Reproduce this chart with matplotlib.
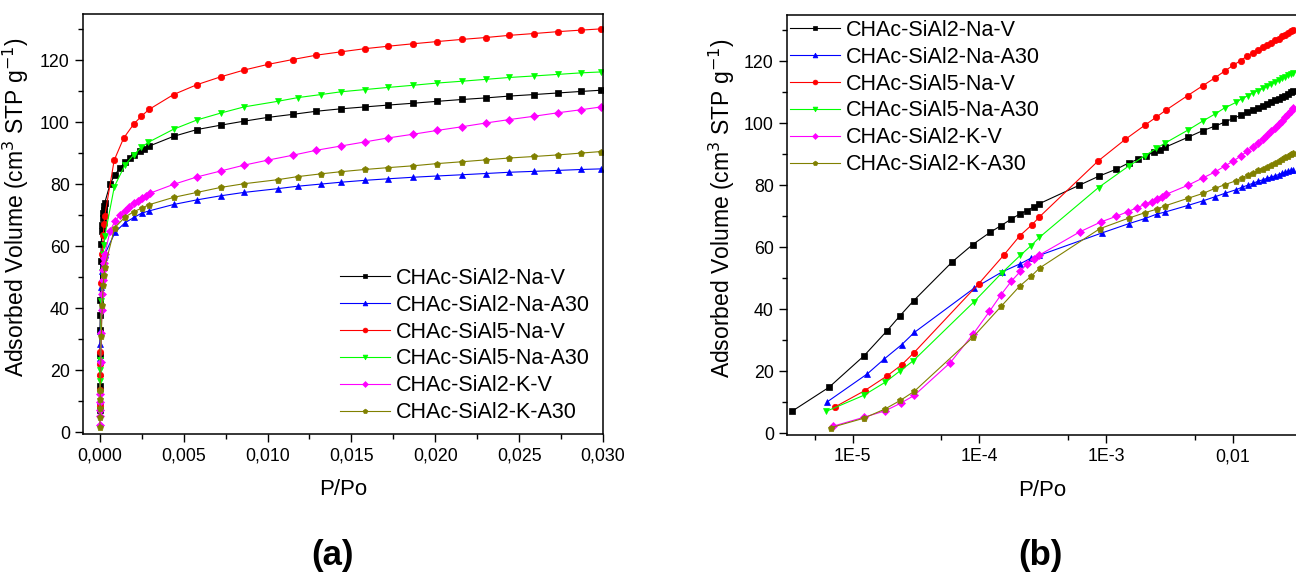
import numpy as np
import matplotlib
matplotlib.use("Agg")
import matplotlib.pyplot as plt
from matplotlib.ticker import MultipleLocator, FixedLocator, NullFormatter

plt.rcParams['font.family'] = ['Liberation Sans', 'DejaVu Sans']

# Isotherm data (P/Po, adsorbed volume cm3 STP/g) -----------------------------
labels = ["CHAc-SiAl2-Na-V", "CHAc-SiAl2-Na-A30", "CHAc-SiAl5-Na-V",
          "CHAc-SiAl5-Na-A30", "CHAc-SiAl2-K-V", "CHAc-SiAl2-K-A30"]
colors = ["#000000", "#0000FF", "#FF0000", "#00FF00", "#FF00FF", "#808000"]
markers = ["s", "^", "o", "v", "D", "p"]

p_hi_a = [0.0044, 0.0058, 0.0072, 0.0086, 0.0100, 0.0115, 0.0129, 0.0144, 0.0158,
          0.0172, 0.0187, 0.0201, 0.0216, 0.0230, 0.0244, 0.0259, 0.0273, 0.0287, 0.0299]
p_hi_b = [0.0044, 0.0058, 0.0072, 0.0086, 0.0106, 0.0118, 0.0132, 0.0144, 0.0158,
          0.0172, 0.0187, 0.0201, 0.0216, 0.0230, 0.0244, 0.0259, 0.0273, 0.0287, 0.0299]

p_na2_v = [3.3e-6, 6.5e-6, 1.23e-5, 1.87e-5, 2.36e-5, 3.03e-5, 6.1e-5, 8.85e-5, 1.22e-4,
           1.48e-4, 1.78e-4, 2.09e-4, 2.37e-4, 2.69e-4, 2.94e-4, 6.1e-4, 8.8e-4, 1.2e-3,
           1.5e-3, 1.78e-3, 2.07e-3, 2.37e-3, 2.65e-3, 2.92e-3] + p_hi_a
v_na2_v = [7.0, 14.8, 25.0, 33.1, 37.9, 42.8, 55.3, 60.9, 64.9, 67.0, 69.1, 70.8, 71.8,
           73.1, 74.0, 80.0, 83.0, 85.2, 87.2, 88.4, 89.6, 90.7, 91.5, 92.3,
           95.5, 97.7, 99.1, 100.4, 101.6, 102.6, 103.6, 104.4, 105.0, 105.6, 106.2,
           106.8, 107.4, 107.9, 108.5, 109.0, 109.5, 110.0, 110.4]

p_na2_a = [6.24e-6, 1.30e-5, 1.78e-5, 2.44e-5, 3.06e-5, 9.0e-5, 1.5e-4, 2.1e-4, 2.55e-4,
           2.97e-4, 9.2e-4, 1.5e-3, 2.03e-3, 2.5e-3, 2.92e-3] + p_hi_b
v_na2_a = [10.0, 19.1, 24.0, 28.6, 32.5, 46.7, 52.0, 54.7, 56.5, 57.4, 64.6, 67.6, 69.3,
           70.7, 71.4, 73.5, 75.0, 76.3, 77.4, 78.6, 79.4, 80.1, 80.7, 81.3, 81.8, 82.3,
           82.7, 83.1, 83.5, 83.9, 84.2, 84.5, 84.8, 85.0]

p_na5_v = [7.2e-6, 1.24e-5, 1.87e-5, 2.44e-5, 3.03e-5, 9.9e-5, 1.55e-4, 2.09e-4, 2.6e-4,
           2.97e-4, 8.6e-4, 1.42e-3, 2.03e-3, 2.48e-3, 2.94e-3] + p_hi_a
v_na5_v = [8.4, 13.7, 18.5, 22.1, 25.9, 48.3, 57.4, 63.8, 67.3, 69.8, 87.8, 94.9, 99.5,
           102.0, 104.2, 109.0, 112.2, 114.7, 116.9, 118.7, 120.3, 121.7, 122.8, 123.8,
           124.6, 125.4, 126.1, 126.8, 127.4, 128.1, 128.7, 129.3, 129.8, 130.2]

p_na5_a = [6.15e-6, 1.22e-5, 1.80e-5, 2.38e-5, 3.01e-5, 9.0e-5, 1.50e-4, 2.10e-4, 2.55e-4,
           2.97e-4, 8.7e-4, 1.5e-3, 2.03e-3, 2.48e-3, 2.9e-3] + p_hi_b
v_na5_a = [7.0, 12.2, 16.4, 20.2, 23.4, 42.3, 51.7, 57.4, 60.5, 63.2, 79.3, 86.2, 89.6,
           91.9, 93.6, 97.8, 100.8, 103.0, 105.0, 106.8, 108.0, 109.0, 109.9, 110.6,
           111.3, 112.0, 112.7, 113.3, 113.9, 114.5, 115.0, 115.5, 116.0, 116.3]

p_k2_v = [6.95e-6, 1.22e-5, 1.80e-5, 2.40e-5, 3.06e-5, 5.9e-5, 8.96e-5, 1.20e-4, 1.48e-4,
          1.78e-4, 2.10e-4, 2.37e-4, 2.68e-4, 2.97e-4, 6.2e-4, 9.1e-4, 1.2e-3, 1.48e-3,
          1.76e-3, 2.03e-3, 2.28e-3, 2.5e-3, 2.75e-3, 2.97e-3] + p_hi_a
v_k2_v = [2.2, 5.1, 7.2, 9.7, 12.2, 22.8, 32.1, 39.3, 44.7, 49.0, 52.2, 54.7, 56.3, 57.5,
          65.0, 68.2, 70.0, 71.5, 72.8, 73.9, 74.7, 75.5, 76.4, 77.1,
          80.0, 82.4, 84.3, 86.2, 87.8, 89.4, 91.0, 92.4, 93.7, 95.0, 96.2, 97.4, 98.6,
          99.8, 100.9, 102.0, 103.1, 104.1, 105.0]

p_k2_a = [6.74e-6, 1.22e-5, 1.8e-5, 2.38e-5, 3.06e-5, 8.85e-5, 1.48e-4, 2.07e-4, 2.55e-4,
          2.98e-4, 8.9e-4, 1.5e-3, 2.03e-3, 2.5e-3, 2.92e-3] + p_hi_b
v_k2_a = [1.8, 4.8, 7.8, 10.6, 13.5, 30.9, 40.9, 47.4, 50.6, 53.3, 66.0, 69.4, 71.2,
          72.3, 73.4, 75.8, 77.4, 79.0, 80.2, 81.5, 82.5, 83.4, 84.1, 84.8, 85.4, 86.0,
          86.7, 87.3, 87.9, 88.5, 89.0, 89.5, 90.1, 90.6]

series_p = [p_na2_v, p_na2_a, p_na5_v, p_na5_a, p_k2_v, p_k2_a]
series_v = [v_na2_v, v_na2_a, v_na5_v, v_na5_a, v_k2_v, v_k2_a]

lin_ticks = [0.0, 0.005, 0.010, 0.015, 0.020, 0.025, 0.030]
lin_labels = ["0,000", "0,005", "0,010", "0,015", "0,020", "0,025", "0,030"]
log_ticks = [1e-5, 1e-4, 1e-3, 1e-2]
log_labels = ["1E-5", "1E-4", "1E-3", "0,01"]
log_minor = [5e-6, 5e-5, 5e-4, 5e-3]

YLABEL = "Adsorbed Volume (cm$^3$ STP g$^{-1}$)"
LEG_FS = 15.5


def style_axis(ax):
    for s in ax.spines.values():
        s.set_linewidth(1.1)
    ax.tick_params(which="both", direction="out", top=False, right=False,
                   labelsize=12.8, width=1.0)
    ax.tick_params(which="major", length=6)
    ax.tick_params(which="minor", length=3.5)
    ax.set_ylim(-0.6, 135)
    ax.yaxis.set_major_locator(MultipleLocator(20))
    ax.yaxis.set_minor_locator(MultipleLocator(10))
    ax.set_ylabel(YLABEL, fontsize=16.5)
    ax.set_xlabel("P/Po", fontsize=16, labelpad=11)


def draw(ax):
    for p, v, lab, c, m in zip(series_p, series_v, labels, colors, markers):
        ms = 4.0 if m in ("s", "D") else 4.6
        ax.plot(p, v, color=c, marker=m, markersize=ms, linewidth=0.8,
                markeredgewidth=0.5, label=lab)


def add_legend(ax, x, y):
    ax.legend(loc="upper left", bbox_to_anchor=(x / W, (H - y) / H),
              bbox_transform=fig.transFigure, frameon=False, fontsize=LEG_FS,
              handlelength=2.3, handletextpad=0.3, labelspacing=0.27,
              borderpad=0, borderaxespad=0, markerscale=0.75)


fig = plt.figure(figsize=(12.96, 5.76), dpi=100)
W, H = 1296, 576

# (a) linear scale ---------------------------------------------------------------
ax1 = fig.add_axes([83 / W, (H - 434) / H, (603 - 83) / W, (434 - 14) / H])
draw(ax1)
style_axis(ax1)
ax1.set_xlim(-0.001, 0.030)
ax1.set_xticks(lin_ticks)
ax1.set_xticklabels(lin_labels)
ax1.xaxis.set_minor_locator(MultipleLocator(0.0025))
ax1.yaxis.set_label_coords((31 - 83) / (603 - 83), 0.54)
add_legend(ax1, 340, 268)

# (b) log scale ------------------------------------------------------------------
ax2 = fig.add_axes([787 / W, (H - 435) / H, (W - 787) / W + 0.001, (435 - 15) / H])
draw(ax2)
style_axis(ax2)
ax2.set_xscale("log")
ax2.set_xlim(3.03e-6, 0.0322)
ax2.xaxis.set_major_locator(FixedLocator(log_ticks))
ax2.set_xticklabels(log_labels)
ax2.xaxis.set_minor_locator(FixedLocator(log_minor))
ax2.xaxis.set_minor_formatter(NullFormatter())
ax2.spines["right"].set_visible(False)
ax2.yaxis.set_label_coords((737 - 787) / (W - 787), 0.54)
add_legend(ax2, 790, 20)

fig.text(332 / W, (H - 555) / H, "(a)", ha="center", va="center",
         fontsize=25, fontweight="bold")
fig.text(1040 / W, (H - 555) / H, "(b)", ha="center", va="center",
         fontsize=25, fontweight="bold")

fig.savefig("out.png", dpi=100)
